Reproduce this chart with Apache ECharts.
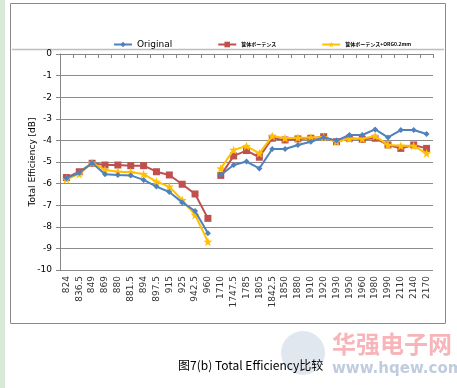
<!DOCTYPE html>
<html><head><meta charset="utf-8">
<script src="https://cdn.jsdelivr.net/npm/echarts@6/dist/echarts.min.js"></script>
<style>html,body{margin:0;padding:0;background:#fff}#c{width:457px;height:388px}</style>
</head><body><div id="c"></div>
<script>
const categories = ['824','836.5','849','869','880','881.5','894','897.5','915','925','942.5','960','1710','1747.5','1785','1805','1842.5','1850','1880','1910','1920','1930','1950','1960','1980','1990','2110','2140','2170'];
const seriesNames = ['Original','筐体ボーテンス','筐体ボーテンス+ORG0.2mm'];
const originalVals = [-5.75,-5.5,-5.05,-5.57,-5.6,-5.62,-5.83,-6.14,-6.39,-6.87,-7.27,-8.3,-5.6,-5.14,-4.98,-5.3,-4.4,-4.4,-4.21,-4.06,-3.86,-4.01,-3.75,-3.75,-3.49,-3.86,-3.52,-3.52,-3.7];
const cabinetVals = [-5.72,-5.45,-5.06,-5.14,-5.14,-5.17,-5.17,-5.45,-5.6,-6.03,-6.48,-7.61,-5.62,-4.72,-4.47,-4.78,-3.9,-3.98,-3.93,-3.9,-3.83,-4.06,-3.9,-3.95,-3.9,-4.21,-4.37,-4.21,-4.37];
const cabinetOrgVals = [-5.8,-5.55,-5.03,-5.37,-5.45,-5.47,-5.56,-5.91,-6.14,-6.76,-7.45,-8.69,-5.3,-4.44,-4.26,-4.6,-3.8,-3.9,-3.88,-3.87,-3.85,-4.05,-3.92,-3.92,-3.8,-4.21,-4.25,-4.25,-4.6];
const bandSplit = 12; // first index of the high band
const yTicks = [0,-1,-2,-3,-4,-5,-6,-7,-8,-9,-10];

const colors = ['#4F81BD','#C0504D','#FFC000'];
const starPath = 'path://M0,-10 L2.4,-3.3 9.5,-3.1 3.9,1.3 5.9,8.1 0,4.1 -5.9,8.1 -3.9,1.3 -9.5,-3.1 -2.4,-3.3Z';
const symbols = ['diamond','rect',starPath];
const symSizes = [6,7,9];
const allVals = [originalVals, cabinetVals, cabinetOrgVals];

const series = [];
allVals.forEach((vals, si) => {
  const low = vals.map((v,i) => i < bandSplit ? v : '-');
  const high = vals.map((v,i) => i >= bandSplit ? v : '-');
  [low, high].forEach(d => series.push({
    name: seriesNames[si], type: 'line', data: d, connectNulls: false,
    symbol: symbols[si], symbolSize: symSizes[si], showSymbol: true,
    lineStyle: {color: colors[si], width: 2},
    itemStyle: {color: colors[si]},
    z: si === 2 ? 3 : (si === 1 ? 2 : 4),
    animation: false
  }));
});

const chart = echarts.init(document.getElementById('c'), null, {renderer:'canvas'});
chart.setOption({
  animation: false,
  backgroundColor: '#fff',
  legend: {
    data: [
      {name: seriesNames[0], textStyle:{fontSize: 9, fontFamily:'DejaVu Sans'}},
      {name: seriesNames[1], textStyle:{fontSize: 5, fontWeight:'bold'}},
      {name: seriesNames[2], textStyle:{fontSize: 5, fontWeight:'bold'}}
    ],
    top: 35, left: 108, itemGap: 45, itemWidth: 18, itemHeight: 7,
    textStyle: {color:'#000', fontFamily:'Noto Sans CJK JP'},
    selectedMode: false
  },
  grid: {left: 60, right: 24, top: 54, bottom: 118, containLabel: false},
  xAxis: {
    type: 'category', data: categories, boundaryGap: true,
    axisLine: {lineStyle: {color: '#868686'}},
    axisTick: {show: true, alignWithLabel: false, length: 4, lineStyle:{color:'#868686'}},
    axisLabel: {rotate: 90, fontSize: 9, color: '#333', fontFamily: 'DejaVu Sans', margin: 6, interval: 0}
  },
  yAxis: {
    type: 'value', min: -10, max: 0, interval: 1,
    name: 'Total Efficiency [dB]', nameLocation: 'middle', nameGap: 23, nameRotate: 90,
    nameMoveOverlap: false,
    nameTextStyle: {fontSize: 9, color:'#000', fontFamily: 'DejaVu Sans'},
    axisLine: {show: true, lineStyle: {color: '#868686'}},
    axisTick: {show: true, length: 4, lineStyle:{color:'#868686'}},
    axisLabel: {fontSize: 9, color:'#000', fontFamily: 'DejaVu Sans', margin: 8,
      formatter: v => yTicks.indexOf(v) >= 0 ? String(v) : ''},
    splitLine: {lineStyle: {color: '#8c8c8c', width: 1}}
  },
  series: series,
  graphic: [
    {type:'rect', shape:{x:0,y:0,width:5,height:388}, style:{fill:'#d6ead6'}, silent:true},
    {type:'rect', shape:{x:10.5,y:3.5,width:435,height:320}, style:{fill:'none', stroke:'#8a8a8a', lineWidth:1}, silent:true},
    {type:'line', shape:{x1:12,y1:49.5,x2:444,y2:49.5}, style:{stroke:'#bdbdbd', lineWidth:1.5}, silent:true},
    {type:'circle', shape:{cx:303,cy:353,r:22}, style:{fill:'rgba(170,185,210,0.35)'}, silent:true, z:-1},
    {type:'text', left: 332, top: 332, style:{text:'华强电子网', font:'bold 24px "Noto Sans CJK SC"', fill:'rgba(240,120,130,0.55)'}, silent:true},
    {type:'text', left: 332, top: 362, style:{text:'www.hqew.com', font:'bold 15px "DejaVu Sans"', fill:'rgba(150,170,200,0.6)'}, silent:true},
    {type:'text', left: 178, top: 359, style:{text:'图7(b) Total Efficiency比较', font:'12px "Noto Sans CJK SC"', fill:'#000'}, silent:true}
  ]
});
</script></body></html>
